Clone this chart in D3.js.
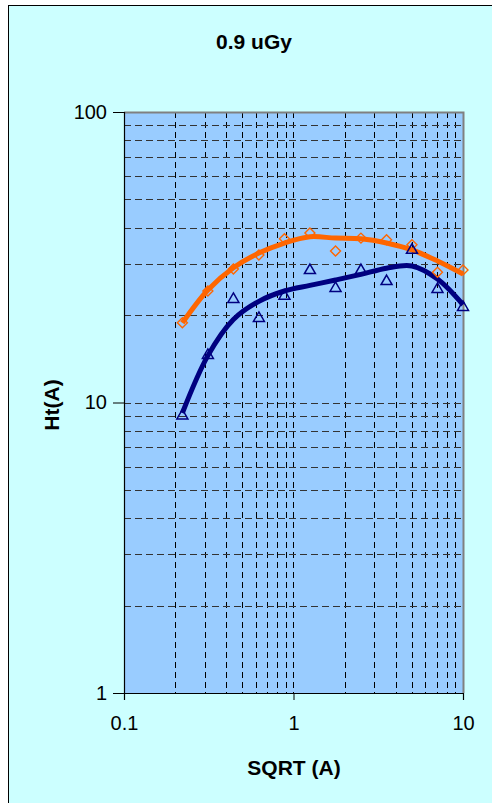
<!DOCTYPE html>
<html>
<head>
<meta charset="utf-8">
<script src="https://cdn.jsdelivr.net/npm/d3@7"></script>
<style>
  html, body { margin: 0; padding: 0; background: #ffffff; }
  svg { display: block; font-family: "Liberation Sans", Arial, sans-serif; }
</style>
</head>
<body>
<svg id="chart" width="492" height="803"></svg>
<script>
// SQRT(A) sample positions
const sqrtA = [0.221, 0.3125, 0.442, 0.625, 0.884, 1.25, 1.77, 2.5, 3.54, 5.0, 7.07, 10.0];

// Measured Ht(A), first series (orange diamonds)
const htOrange = [18.8, 24.2, 28.8, 32.2, 36.6, 38.3, 33.2, 36.8, 36.3, 34.9, 28.1, 28.6];
// Measured Ht(A), second series (navy triangles)
const htNavy = [9.1, 14.7, 22.9, 19.7, 23.5, 28.8, 25.0, 28.8, 26.4, 33.8, 24.8, 21.5];

// Smoothed trend values at the same positions
const fitOrange = [18.8, 24.4, 29.1, 32.7, 35.4, 37.2, 36.8, 36.6, 35.4, 33.5, 30.7, 27.7];
const fitNavy = [9.2, 14.5, 19.3, 22.3, 24.2, 25.3, 26.4, 27.6, 29.0, 29.5, 26.6, 21.7];

// Axis ticks
const xTickLabels = [0.1, 1, 10];
const yTickLabels = [1, 10, 100];

const title = "0.9 uGy";
const xTitle = "SQRT (A)";
const yTitle = "Ht(A)";

const svg = d3.select("#chart");
const plot = { left: 124, right: 463, top: 112, bottom: 693 };

// Chart frame
svg.append("rect")
  .attr("x", 8.5).attr("y", 5.5)
  .attr("width", 492).attr("height", 803)
  .attr("fill", "#ccffff").attr("stroke", "#000").attr("stroke-width", 1);

const x = d3.scaleLog().domain([0.1, 10]).range([plot.left, plot.right]);
const y = d3.scaleLog().domain([1, 100]).range([plot.bottom, plot.top]);

// Plot area
svg.append("rect")
  .attr("x", plot.left).attr("y", plot.top)
  .attr("width", plot.right - plot.left).attr("height", plot.bottom - plot.top)
  .attr("fill", "#99ccff");

// Dashed grid at every decade subdivision
const xGrid = x.ticks().filter(v => v > 0.1 && v < 10);
const yGrid = y.ticks().filter(v => v > 1 && v < 100);

svg.append("g").selectAll("line").data(xGrid).join("line")
  .attr("x1", d => Math.round(x(d)) + 0.5).attr("x2", d => Math.round(x(d)) + 0.5)
  .attr("y1", plot.top).attr("y2", plot.bottom)
  .attr("stroke", "#000").attr("stroke-width", 1)
  .attr("stroke-dasharray", "6,4");

svg.append("g").selectAll("line").data(yGrid).join("line")
  .attr("y1", d => Math.round(y(d)) + 0.5).attr("y2", d => Math.round(y(d)) + 0.5)
  .attr("x1", plot.left).attr("x2", plot.right)
  .attr("stroke", "#333").attr("stroke-width", 1)
  .attr("stroke-dasharray", "7,4");

// Plot border (top and right)
svg.append("path")
  .attr("d", `M${plot.left},${plot.top + 0.5}H${plot.right + 0.5}V${plot.bottom}`)
  .attr("fill", "none").attr("stroke", "#808080").attr("stroke-width", 2);

// Trend curves
const line = d3.line()
  .x(d => x(d[0])).y(d => y(d[1]))
  .curve(d3.curveCatmullRom.alpha(0.5));

svg.append("path")
  .datum(sqrtA.map((v, i) => [v, fitOrange[i]]))
  .attr("d", line)
  .attr("fill", "none").attr("stroke", "#ff6600").attr("stroke-width", 5)
  .attr("stroke-linejoin", "round");

svg.append("path")
  .datum(sqrtA.map((v, i) => [v, fitNavy[i]]))
  .attr("d", line)
  .attr("fill", "none").attr("stroke", "#000080").attr("stroke-width", 5)
  .attr("stroke-linejoin", "round");

// Markers
svg.append("g").selectAll("path").data(sqrtA.map((v, i) => [v, htOrange[i]])).join("path")
  .attr("transform", d => `translate(${x(d[0])},${y(d[1])})`)
  .attr("d", "M0,-5L5,0L0,5L-5,0Z")
  .attr("fill", "none").attr("stroke", "#ff6600").attr("stroke-width", 1.4);

svg.append("g").selectAll("path").data(sqrtA.map((v, i) => [v, htNavy[i]])).join("path")
  .attr("transform", d => `translate(${x(d[0])},${y(d[1])})`)
  .attr("d", "M0,-5L5.5,4.5L-5.5,4.5Z")
  .attr("fill", "none").attr("stroke", "#000080").attr("stroke-width", 1.5);

// Axes
const yAxis = svg.append("g")
  .attr("transform", `translate(${plot.left},0)`)
  .call(d3.axisLeft(y).tickValues(yTickLabels).tickFormat(d3.format("d"))
    .tickSize(11).tickPadding(6));
yAxis.select(".domain").attr("stroke", "#000").attr("stroke-width", 1.2);
yAxis.selectAll(".tick line").attr("stroke", "#000");
yAxis.selectAll(".tick text")
  .attr("font-size", 20).attr("fill", "#000").attr("font-family", "Liberation Sans, Arial, sans-serif");

const xAxis = svg.append("g")
  .attr("transform", `translate(0,${plot.bottom})`)
  .call(d3.axisBottom(x).tickValues(xTickLabels).tickFormat(d3.format("~g"))
    .tickSize(7).tickPadding(16));
xAxis.select(".domain").attr("stroke", "#000").attr("stroke-width", 1.2);
xAxis.selectAll(".tick line").attr("stroke", "#000");
xAxis.selectAll(".tick text")
  .attr("font-size", 20).attr("fill", "#000").attr("font-family", "Liberation Sans, Arial, sans-serif");

// Titles
svg.append("text")
  .attr("x", 254).attr("y", 49)
  .attr("text-anchor", "middle")
  .attr("font-size", 21).attr("font-weight", "bold")
  .text(title);

svg.append("text")
  .attr("x", 294).attr("y", 775)
  .attr("text-anchor", "middle")
  .attr("font-size", 21).attr("font-weight", "bold")
  .text(xTitle);

svg.append("text")
  .attr("transform", "translate(59,405) rotate(-90)")
  .attr("text-anchor", "middle")
  .attr("font-size", 21).attr("font-weight", "bold")
  .text(yTitle);
</script>
</body>
</html>
